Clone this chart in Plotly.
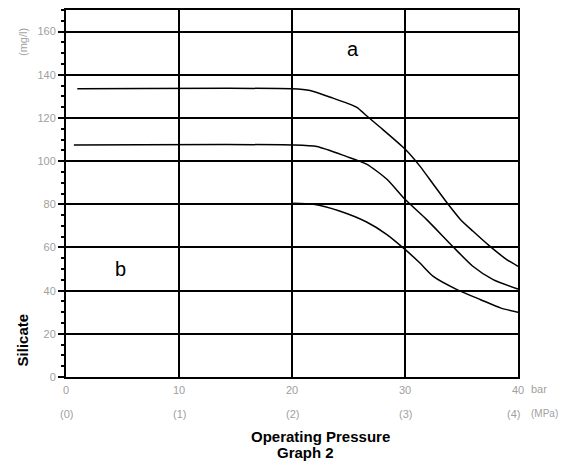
import plotly.graph_objects as go

# ---- data ----
pressure_top = [1, 20, 21.6, 23.4, 25.7, 26.6, 27.8, 30, 31.3, 32.5, 33.7, 34.9, 36, 37.5, 39, 40]
silicate_top = [133.5, 133.5, 132.7, 129.6, 125, 121, 115.7, 105.6, 97.8, 89.3, 80.8, 73, 67.6, 60.6, 54.4, 51.3]

pressure_mid = [0.7, 20, 22.2, 24.8, 26.6, 28.4, 30, 31.9, 34.2, 36, 37.8, 40]
silicate_mid = [107.5, 107.5, 106.8, 102.2, 98.6, 91.6, 82.3, 73, 60.6, 51.3, 45.1, 40.7]

pressure_low = [20, 21.9, 24.2, 26.6, 28.4, 30, 31.3, 32.5, 34.6, 36.7, 38.5, 40]
silicate_low = [80.5, 80, 76.9, 71.8, 66, 59.1, 52.9, 46.6, 40.5, 35.8, 31.9, 30]

x_ticks = [0, 10, 20, 30, 40]
x_tick_bar = ["0", "10", "20", "30", "40"]
x_tick_mpa = ["(0)", "(1)", "(2)", "(3)", "(4)"]
y_ticks = [0, 20, 40, 60, 80, 100, 120, 140, 160]
y_tick_text = ["0", "20", "40", "60", "80", "100", "120", "140", "160"]

FONT = "Liberation Sans, Arial, sans-serif"
GRAY = "#a0a0a0"

fig = go.Figure()
for xs, ys in [(pressure_top, silicate_top), (pressure_mid, silicate_mid), (pressure_low, silicate_low)]:
    fig.add_trace(go.Scatter(x=xs, y=ys, mode="lines",
                             line=dict(color="black", width=1.5, shape="spline", smoothing=0.6),
                             showlegend=False, hoverinfo="skip"))

fig.update_xaxes(range=[0, 40], tickvals=x_ticks, ticktext=x_tick_bar,
                 showgrid=True, gridcolor="black", gridwidth=2,
                 showline=True, linecolor="black", linewidth=2, mirror=True,
                 zeroline=False, ticks="", ticklabelstandoff=2,
                 tickfont=dict(family=FONT, size=11, color=GRAY))
fig.update_yaxes(range=[0, 170], tickvals=y_ticks, ticktext=y_tick_text,
                 showgrid=True, gridcolor="black", gridwidth=2,
                 showline=True, linecolor="black", linewidth=2, mirror=True,
                 zeroline=False, ticks="outside", ticklen=6, tickwidth=2, tickcolor="black",
                 minor=dict(dtick=5, ticks="outside", ticklen=3, tickwidth=1.5, tickcolor="black", showgrid=False),
                 tickfont=dict(family=FONT, size=11, color=GRAY))

ann = []
for xv, t in zip(x_ticks, x_tick_mpa):
    ann.append(dict(x=xv, y=-0.1, xref="x", yref="paper", text=t, showarrow=False,
                    font=dict(family=FONT, size=11, color=GRAY), xanchor="center", yanchor="middle",
                    xshift=-5 if xv == 40 else 0))
ann.append(dict(x=40, y=-0.0325, xref="x", yref="paper", text="bar", showarrow=False,
                font=dict(family=FONT, size=11, color=GRAY), xanchor="left", yanchor="middle", xshift=11))
ann.append(dict(x=40, y=-0.1, xref="x", yref="paper", text="(MPa)", showarrow=False,
                font=dict(family=FONT, size=10, color=GRAY), xanchor="left", yanchor="middle", xshift=11))
ann.append(dict(x=-0.095, y=0.913, xref="paper", yref="paper", text="(mg/l)", showarrow=False,
                textangle=-90, font=dict(family=FONT, size=11, color=GRAY), xanchor="center", yanchor="middle"))
ann.append(dict(x=-0.097, y=0.1, xref="paper", yref="paper", text="<b>Silicate</b>", showarrow=False,
                textangle=-90, font=dict(family=FONT, size=15, color="black"), xanchor="center", yanchor="middle"))
ann.append(dict(x=0.562, y=-0.163, xref="paper", yref="paper", text="<b>Operating Pressure</b>", showarrow=False,
                font=dict(family=FONT, size=15, color="black"), xanchor="center", yanchor="middle"))
ann.append(dict(x=0.529, y=-0.206, xref="paper", yref="paper", text="<b>Graph 2</b>", showarrow=False,
                font=dict(family=FONT, size=15, color="black"), xanchor="center", yanchor="middle"))
ann.append(dict(x=25.4, y=152, xref="x", yref="y", text="a", showarrow=False,
                font=dict(family=FONT, size=20, color="black"), xanchor="center", yanchor="middle"))
ann.append(dict(x=4.8, y=50, xref="x", yref="y", text="b", showarrow=False,
                font=dict(family=FONT, size=20, color="black"), xanchor="center", yanchor="middle"))

# page body adds an 8px offset, so the figure box is shrunk accordingly
fig.update_layout(width=561, height=454, margin=dict(l=58, r=51, t=0, b=85),
                  plot_bgcolor="white", paper_bgcolor="white", annotations=ann,
                  font=dict(family=FONT))
fig.write_html("out.html")
